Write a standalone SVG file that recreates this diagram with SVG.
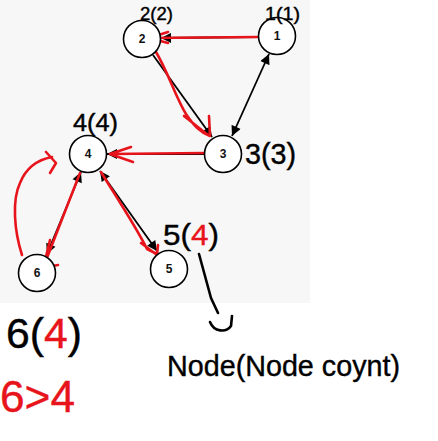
<svg xmlns="http://www.w3.org/2000/svg" width="438" height="441" viewBox="0 0 438 441">
<defs>
<style>
.node circle{fill:#fff;stroke:#000;stroke-width:1.6}
.node text{font-family:"Liberation Sans",Arial,sans-serif;font-size:12px;font-weight:bold;fill:#111;text-anchor:middle;dominant-baseline:central}
.edge{stroke:#000;stroke-width:1.8;fill:none}
.red{stroke:#e8141c;stroke-width:2.6;fill:none;stroke-linecap:round;stroke-linejoin:round}
.hand{font-family:"Liberation Sans",Arial,sans-serif;fill:#000;stroke:#000;stroke-width:0.4}
.r{fill:#e8141c;stroke:#e8141c}
.ink{stroke:#000;stroke-width:2.6;fill:none;stroke-linecap:round;stroke-linejoin:round}
</style>
<marker id="ah" viewBox="0 0 10 10" refX="10" refY="5" markerWidth="11" markerHeight="10" orient="auto-start-reverse" markerUnits="userSpaceOnUse">
<path d="M0,0 L10,5 L0,10 z" fill="#000"/>
</marker>
</defs>
<rect x="0" y="0" width="310" height="303" fill="#f7f7f7"/>
<g id="connectors">
<line class="edge" x1="258" y1="37" x2="161" y2="38" marker-end="url(#ah)"/>
<line class="edge" x1="153" y1="55" x2="212" y2="137" marker-end="url(#ah)"/>
<line class="edge" x1="269" y1="54" x2="232" y2="136" marker-start="url(#ah)" marker-end="url(#ah)"/>
<line class="edge" x1="204" y1="154" x2="107" y2="154" marker-end="url(#ah)"/>
<line class="edge" x1="81" y1="172" x2="47" y2="254" marker-start="url(#ah)" marker-end="url(#ah)"/>
<line class="edge" x1="100" y1="171" x2="157" y2="251" marker-start="url(#ah)" marker-end="url(#ah)"/>
</g>
<g id="red-strokes">
<path class="red" d="M257,37 L150,38 M149,38 L168,32 M149,38 L168,43"/>
<path class="red" d="M156,52 C168,72 176,98 186,114 C194,126 200,132 210,136 M184,116 L208,135 M209,116 L210,136"/>
<path class="red" d="M204,153 L110,154 M110,154 L131,147 M110,154 L133,162"/>
<path class="red" d="M80,173 L43,268 M42,268 L58,265 M50,240 L44,265"/>
<path class="red" d="M22,255 C14,230 12,200 20,183 C26,168 36,160 52,157 M46,152 L56,163 L50,173"/>
<path class="red" d="M101,172 C115,195 135,225 147,249 L157,254 M141,243 L157,255 M158,245 L157,255"/>
</g>
<g id="node1" class="node"><circle cx="277" cy="36" r="18.5"/><text x="277" y="36">1</text></g>
<g id="node2" class="node"><circle cx="142" cy="39" r="18.5"/><text x="142" y="39">2</text></g>
<g id="node3" class="node"><circle cx="223" cy="154" r="18.5"/><text x="223" y="154">3</text></g>
<g id="node4" class="node"><circle cx="88" cy="154" r="18.5"/><text x="88" y="154">4</text></g>
<g id="node5" class="node"><circle cx="169" cy="269" r="18.5"/><text x="169" y="269">5</text></g>
<g id="node6" class="node"><circle cx="37" cy="273" r="18.5"/><text x="37" y="273">6</text></g>
<g id="labels">
<text class="hand" x="140" y="20" font-size="19" textLength="33" lengthAdjust="spacingAndGlyphs">2(2)</text>
<text class="hand" x="265" y="20" font-size="19" textLength="35" lengthAdjust="spacingAndGlyphs">1(1)</text>
<text class="hand" x="245" y="164" font-size="29" textLength="51" lengthAdjust="spacingAndGlyphs">3(3)</text>
<text class="hand" x="73" y="131" font-size="23" textLength="45" lengthAdjust="spacingAndGlyphs">4(4)</text>
<text class="hand" x="163" y="245" font-size="30" textLength="56" lengthAdjust="spacingAndGlyphs">5(<tspan class="r">4</tspan>)</text>
<text class="hand" x="6" y="348" font-size="42" textLength="76" lengthAdjust="spacingAndGlyphs">6(<tspan class="r">4</tspan>)</text>
<text class="hand r" x="0" y="412" font-size="44" textLength="75" lengthAdjust="spacingAndGlyphs">6&gt;4</text>
<text class="hand" x="167" y="376" font-size="30" textLength="233" lengthAdjust="spacingAndGlyphs">Node(Node coynt)</text>
<path class="ink" d="M199,254 L211,298 L218,313 M210,322 C214,332 226,333 231,326 L232,316"/>
</g>
</svg>
